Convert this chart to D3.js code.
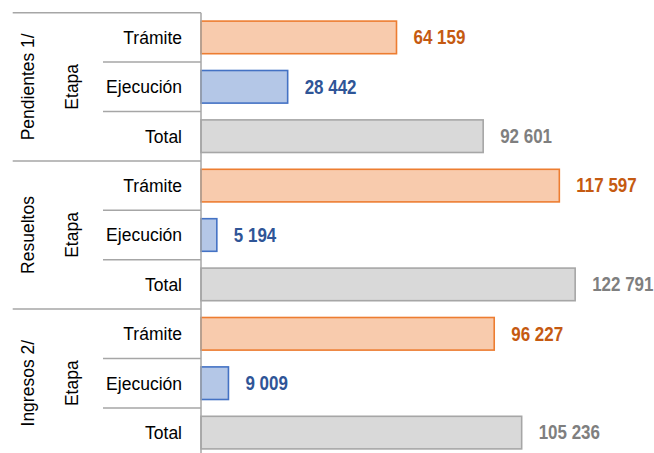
<!DOCTYPE html>
<html>
<head>
<meta charset="utf-8">
<script src="https://cdn.jsdelivr.net/npm/d3@7"></script>
<style>
  html, body { margin: 0; padding: 0; background: #fff; }
  svg { display: block; }
  text { font-family: "Liberation Sans", Arial, sans-serif; }
</style>
</head>
<body>
<svg id="chart" width="654" height="453"></svg>
<script>
// ---- data ----
const groups = ["Pendientes 1/", "Resueltos", "Ingresos 2/"];
const subgroupLabel = "Etapa";
const stages = ["Trámite", "Ejecución", "Total"];
const tramite = [64159, 117597, 96227];
const ejecucion = [28442, 5194, 9009];
const total = [92601, 122791, 105236];

// ---- styling ----
const fills = { "Trámite": "#F8CBAD", "Ejecución": "#B4C7E7", "Total": "#D9D9D9" };
const strokes = { "Trámite": "#ED7D31", "Ejecución": "#4472C4", "Total": "#A6A6A6" };
const labelColors = { "Trámite": "#C55A11", "Ejecución": "#2F5597", "Total": "#7F7F7F" };

const seriesByStage = { "Trámite": tramite, "Ejecución": ejecucion, "Total": total };
const rows = [];
groups.forEach((g, gi) => {
  stages.forEach(s => rows.push({ key: g + "|" + s, group: g, stage: s, value: seriesByStage[s][gi] }));
});

const svg = d3.select("#chart");
const axisX = 201, plotTop = 12.7, plotBottom = 457.3;

const x = d3.scaleLinear().domain([0, 140000]).range([axisX, 627.6]);
const y = d3.scaleBand().domain(rows.map(r => r.key)).range([plotTop, plotBottom])
  .paddingInner(0.34).paddingOuter(0.17);
const step = y.step();

const fmt = d3.formatLocale({ decimal: ",", thousands: " ", grouping: [3], currency: ["", ""] }).format(",d");

const lineColor = "#A6A6A6";

// bars
svg.append("g").selectAll("rect").data(rows).join("rect")
  .attr("x", x(0))
  .attr("y", d => y(d.key))
  .attr("width", d => x(d.value) - x(0))
  .attr("height", y.bandwidth())
  .attr("fill", d => fills[d.stage])
  .attr("stroke", d => strokes[d.stage])
  .attr("stroke-width", 1.6);

// value labels (condensed bold)
svg.append("g").selectAll("text").data(rows).join("text")
  .attr("transform", d => `translate(${x(d.value) + 17},${y(d.key) + y.bandwidth() / 2}) scale(0.87,1)`)
  .attr("dy", "0.35em")
  .attr("font-size", 19.5)
  .attr("font-weight", "bold")
  .attr("fill", d => labelColors[d.stage])
  .text(d => fmt(d.value));

// category axis structure
const g = svg.append("g");
g.append("line").attr("x1", axisX).attr("x2", axisX).attr("y1", plotTop).attr("y2", plotBottom)
  .attr("stroke", lineColor).attr("stroke-width", 1.5);

const rowTop = (i) => plotTop + i * step;
for (let i = 0; i < rows.length; i++) {
  const isGroup = i % stages.length === 0;
  g.append("line")
    .attr("x1", isGroup ? 12.7 : 103).attr("x2", axisX)
    .attr("y1", rowTop(i)).attr("y2", rowTop(i))
    .attr("stroke", lineColor).attr("stroke-width", 1.5);
}

// row labels
g.selectAll("text.row").data(rows).join("text")
  .attr("class", "row")
  .attr("x", 182)
  .attr("y", d => y(d.key) + y.bandwidth() / 2)
  .attr("dy", "0.36em")
  .attr("text-anchor", "end")
  .attr("font-size", 17.5)
  .attr("fill", "#000")
  .text(d => d.stage);

// group labels + "Etapa"
groups.forEach((grp, gi) => {
  const cy = plotTop + (gi * stages.length + stages.length / 2) * step;
  g.append("text")
    .attr("transform", `translate(28,${cy}) rotate(-90)`)
    .attr("text-anchor", "middle")
    .attr("dy", "0.36em")
    .attr("font-size", 17.5)
    .attr("fill", "#000")
    .text(grp);
  g.append("text")
    .attr("transform", `translate(72,${cy}) rotate(-90)`)
    .attr("text-anchor", "middle")
    .attr("dy", "0.36em")
    .attr("font-size", 17.5)
    .attr("fill", "#000")
    .text(subgroupLabel);
});
</script>
</body>
</html>
